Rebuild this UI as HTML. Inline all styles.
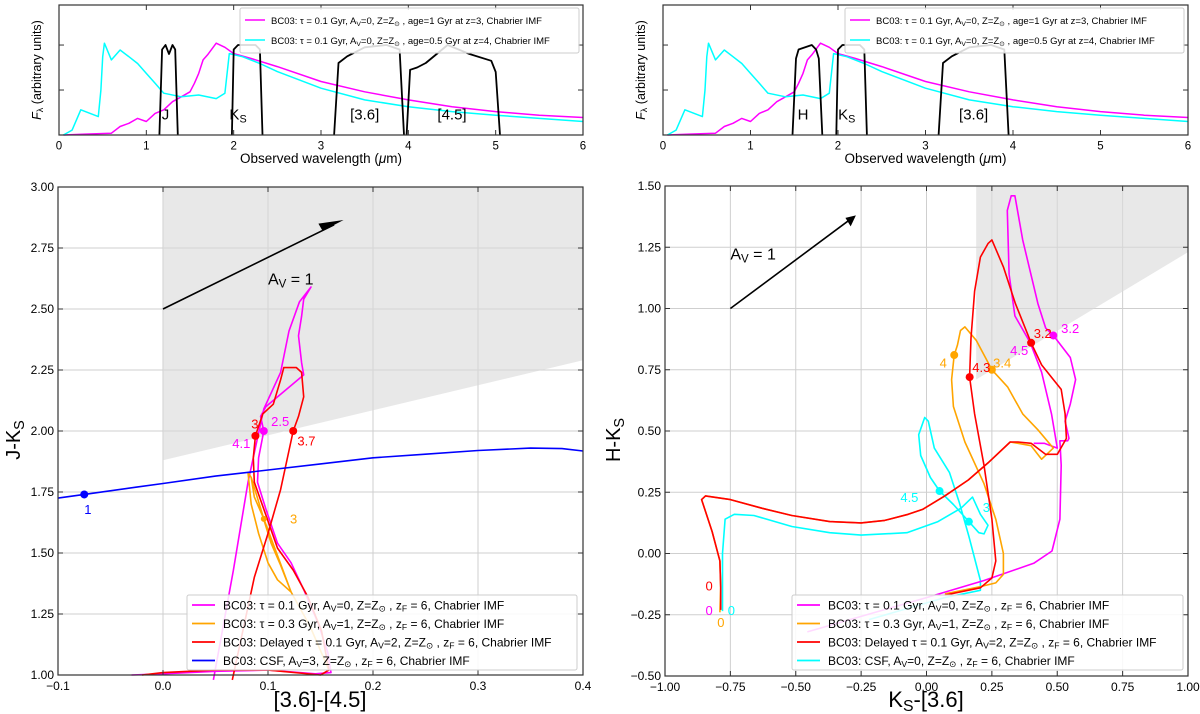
<!DOCTYPE html>
<html><head><meta charset="utf-8"><style>
body{margin:0;background:#fff;}
svg{display:block;font-family:"Liberation Sans","DejaVu Sans",sans-serif;}
</style></head><body>
<svg id="fig" width="1200" height="714" viewBox="0 0 1200 714"></svg>
<script>
// ---------- DATA ----------
// Top panels: spectra (wavelength um, flux arbitrary)
const specMagLam = [0.05,0.3,0.6,0.7,0.8,0.9,1.0,1.1,1.2,1.3,1.4,1.5,1.55,1.6,1.65,1.7,1.8,1.9,2.0,2.2,2.5,3.0,3.5,4.0,4.5,5.0,5.5,6.0];
const specMagFlux = [0,0.02,0.04,0.19,0.26,0.37,0.3,0.48,0.56,0.74,0.85,0.96,1.15,1.37,1.67,1.78,2.04,1.95,1.81,1.7,1.52,1.19,0.96,0.78,0.63,0.52,0.44,0.39];
const specCyaLam = [0.05,0.15,0.25,0.45,0.48,0.5,0.52,0.6,0.7,0.8,0.9,1.0,1.1,1.2,1.4,1.6,1.8,1.9,1.95,2.1,2.3,2.5,3.0,3.5,4.0,4.5,5.0,5.5,6.0];
const specCyaFlux = [0,0.11,0.56,0.41,1.0,1.74,2.04,1.67,1.89,1.74,1.59,1.37,1.15,0.93,0.85,0.89,0.81,0.93,1.81,1.74,1.59,1.41,1.04,0.78,0.63,0.52,0.44,0.37,0.30];
const filtJLam = [1.15,1.18,1.22,1.26,1.3,1.33,1.36];
const filtJT = [0,1.9,2.0,1.8,2.0,1.9,0];
const filtHLam = [1.48,1.52,1.55,1.7,1.75,1.78,1.82];
const filtHT = [0,1.7,1.9,2.0,1.9,1.7,0];
const filtKLam = [1.98,2.0,2.05,2.25,2.3,2.33];
const filtKT = [0,1.9,2.0,2.0,1.9,0];
const filt36Lam = [3.15,3.2,3.3,3.5,3.75,3.9,3.95];
const filt36T = [0,1.6,1.75,1.95,2.0,1.9,0];
const filt45Lam = [3.98,4.02,4.1,4.2,4.45,4.7,4.95,5.0,5.05];
const filt45T = [0,1.45,1.5,1.6,2.0,1.8,1.65,1.4,0];
const topXTicks = [0,1,2,3,4,5,6];

// Bottom-left: J-Ks vs [3.6]-[4.5]
const blXTicks = [-0.1,0.0,0.1,0.2,0.3,0.4];
const blYTicks = [1.00,1.25,1.50,1.75,2.00,2.25,2.50,2.75,3.00];
const blBlueX = [-0.1,-0.075,-0.025,0,0.05,0.1,0.15,0.2,0.25,0.3,0.35,0.38,0.4];
const blBlueY = [1.725,1.74,1.77,1.785,1.815,1.84,1.865,1.89,1.905,1.92,1.93,1.928,1.918];
const blMagX = [0.048,0.067,0.081,0.089,0.096,0.112,0.12,0.13,0.141,0.134,0.132,0.129,0.132,0.134,0.098,0.093,0.096,0.091,0.090,0.098,0.109,0.122,0.134,0.148,0.157,0.16,0.145,0.1,0.05,0.0,-0.03];
const blMagY = [0.98,1.43,1.79,1.95,2.09,2.24,2.41,2.53,2.59,2.54,2.47,2.39,2.28,2.23,2.10,2.06,2.0,1.89,1.79,1.68,1.54,1.46,1.35,1.21,1.09,1.01,1.005,1.02,1.015,1.005,1.0];
const blRedX = [0.066,0.087,0.1,0.112,0.12,0.124,0.129,0.134,0.132,0.127,0.115,0.112,0.105,0.095,0.088,0.086,0.087,0.096,0.109,0.124,0.138,0.151,0.158,0.15,0.1,0.05,0.0,-0.02];
const blRedY = [0.98,1.40,1.58,1.76,1.92,2.0,2.06,2.14,2.24,2.26,2.26,2.21,2.11,2.07,1.98,1.89,1.79,1.68,1.52,1.43,1.32,1.18,1.02,1.0,1.02,1.02,1.01,1.0];
const blOraX = [0.081,0.084,0.087,0.095,0.103,0.112,0.122,0.109,0.1,0.091,0.084,0.081,0.084,0.096,0.122,0.14,0.158];
const blOraY = [1.83,1.81,1.73,1.65,1.54,1.45,1.34,1.39,1.46,1.58,1.70,1.83,1.81,1.64,1.34,1.2,1.02];
const blMarkX = [-0.075,0.096,0.088,0.124,0.096];
const blMarkY = [1.74,2.0,1.98,2.0,1.64];

// Bottom-right: H-Ks vs Ks-[3.6]
const brXTicks = [-1.0,-0.75,-0.5,-0.25,0.0,0.25,0.5,0.75,1.0];
const brYTicks = [-0.5,-0.25,0.0,0.25,0.5,0.75,1.0,1.25,1.5];
const brMagX = [-0.456,0,0.22,0.41,0.48,0.51,0.515,0.51,0.54,0.545,0.53,0.55,0.57,0.55,0.485,0.456,0.426,0.368,0.338,0.324,0.309,0.316,0.338,0.397,0.44,0.478,0.5,0.45,0.41];
const brMagY = [-0.32,-0.18,-0.11,-0.04,0.01,0.14,0.36,0.46,0.46,0.47,0.54,0.61,0.71,0.80,0.89,0.92,1.02,1.28,1.46,1.46,1.40,1.14,0.97,0.86,0.74,0.57,0.43,0.45,0.45];
const brRedX = [-0.787,-0.787,-0.79,-0.82,-0.86,-0.845,-0.75,-0.63,-0.515,-0.37,-0.25,-0.16,-0.07,-0.015,0.07,0.16,0.235,0.32,0.35,0.40,0.455,0.5,0.535,0.53,0.515,0.44,0.40,0.34,0.294,0.25,0.235,0.206,0.184,0.17,0.165,0.184,0.22,0.25,0.265,0.25,0.206,0.07];
const brRedY = [-0.23,-0.14,-0.03,0.09,0.22,0.235,0.22,0.185,0.155,0.13,0.125,0.135,0.16,0.18,0.235,0.30,0.37,0.455,0.455,0.45,0.405,0.405,0.47,0.57,0.67,0.77,0.86,1.02,1.17,1.28,1.265,1.21,1.07,0.88,0.72,0.57,0.36,0.14,-0.03,-0.10,-0.14,-0.17];
const brOraX = [-0.79,-0.787,-0.79,-0.82,-0.86,-0.845,-0.75,-0.63,-0.515,-0.37,-0.25,-0.16,-0.07,-0.015,0.07,0.16,0.235,0.32,0.35,0.40,0.44,0.485,0.426,0.368,0.31,0.25,0.19,0.147,0.13,0.118,0.106,0.096,0.103,0.147,0.22,0.265,0.294,0.294,0.265,0.206,0.07];
const brOraY = [-0.24,-0.14,-0.03,0.09,0.22,0.235,0.22,0.185,0.155,0.13,0.125,0.135,0.16,0.18,0.235,0.30,0.37,0.455,0.45,0.44,0.385,0.43,0.505,0.57,0.68,0.75,0.87,0.925,0.91,0.85,0.81,0.71,0.60,0.455,0.285,0.14,0.0,-0.085,-0.12,-0.135,-0.165];
const brCyaX = [-0.78,-0.78,-0.77,-0.735,-0.66,-0.515,-0.37,-0.25,-0.075,0.044,0.132,0.176,0.206,0.235,0.22,0.2,0.162,0.103,0.05,0.015,-0.022,-0.03,-0.007,0.007,0.03,0.088,0.125,0.162,0.206,0.206,0.07,-0.22];
const brCyaY = [-0.235,0,0.14,0.16,0.155,0.11,0.085,0.075,0.085,0.13,0.185,0.23,0.16,0.115,0.08,0.085,0.13,0.2,0.255,0.31,0.40,0.485,0.555,0.54,0.43,0.33,0.21,0.07,-0.11,-0.15,-0.18,-0.27];
const brMarkX = [0.485,0.40,0.165,0.106,0.25,0.05,0.162];
const brMarkY = [0.89,0.86,0.72,0.81,0.75,0.255,0.13];

// ---------- DRAWING ----------
const NS="http://www.w3.org/2000/svg";
const svg=document.getElementById('fig');
function el(tag,attrs,parent){const e=document.createElementNS(NS,tag);for(const k in attrs)e.setAttribute(k,attrs[k]);(parent||svg).appendChild(e);return e;}
function axis(x0,x1,y0,y1,px0,px1,py0,py1){return {x:v=>px0+(v-x0)/(x1-x0)*(px1-px0),y:v=>py1-(v-y0)/(y1-y0)*(py1-py0),px0,px1,py0,py1};}
function line(ax,xs,ys,color,w,parent,name){
  const d=xs.map((v,i)=>(i?'L':'M')+ax.x(v).toFixed(1)+','+ax.y(ys[i]).toFixed(1)).join(' ');
  const p=el('path',{d:d,fill:'none',stroke:color,'stroke-width':w,'stroke-linejoin':'round'},parent);
  
  
  return p;
}
function txt(x,y,s,size,color,anchor,parent,name,extra){
  const t=el('text',Object.assign({x:x,y:y,'font-size':size,fill:color||'#000','text-anchor':anchor||'start'},extra||{}),parent);
  t.innerHTML=s;
  
  
  return t;
}
function frame(ax,xt,yt,name){
  const g=el('g',{});
  
  
  xt.forEach(v=>el('line',{x1:ax.x(v),x2:ax.x(v),y1:ax.py0,y2:ax.py1,stroke:'#cfcfcf','stroke-width':1},g));
  yt.forEach(v=>el('line',{x1:ax.px0,x2:ax.px1,y1:ax.y(v),y2:ax.y(v),stroke:'#cfcfcf','stroke-width':1},g));
  return g;
}
function ticks(ax,xt,yt,fmtx,fmty,fs,name){
  const g=el('g',{});
  
  
  el('rect',{x:ax.px0,y:ax.py0,width:ax.px1-ax.px0,height:ax.py1-ax.py0,fill:'none',stroke:'#333','stroke-width':1.2},g);
  xt.forEach(v=>{const X=ax.x(v);
    el('line',{x1:X,x2:X,y1:ax.py1,y2:ax.py1-5,stroke:'#333'},g);
    el('line',{x1:X,x2:X,y1:ax.py0,y2:ax.py0+5,stroke:'#333'},g);
    txt(X,ax.py1+fs+3,fmtx(v),fs,'#000','middle',g,'x-tick-label');});
  yt.forEach(v=>{const Y=ax.y(v);
    el('line',{x1:ax.px0,x2:ax.px0+5,y1:Y,y2:Y,stroke:'#333'},g);
    el('line',{x1:ax.px1,x2:ax.px1-5,y1:Y,y2:Y,stroke:'#333'},g);
    if(fmty)txt(ax.px0-4,Y+fs*0.35,fmty(v),fs,'#000','end',g,'y-tick-label');});
}
const sub=s=>'<tspan baseline-shift="-0.25em" font-size="72%">'+s+'</tspan>';
const f2=v=>(v<0?'\u2212':'')+Math.abs(v).toFixed(2);
const f1=v=>(v<0?'\u2212':'')+Math.abs(v).toFixed(1);

// ---- Top panels ----
function topPanel(px0,px1,filters,labels,name){
  const ax=axis(0,6,0,2.89,px0,px1,5,135);
  const g=el('g',{});
  
  
  line(ax,specMagLam,specMagFlux,'#ff00ff',1.5,g,'spectrum-z3-magenta');
  line(ax,specCyaLam,specCyaFlux,'#00ffff',1.5,g,'spectrum-z4-cyan');
  filters.forEach(f=>line(ax,f[0],f[1],'#000',1.8,g,'filter-curve-'+f[2]));
  labels.forEach(l=>txt(ax.x(l[0]),ax.y(0.35),l[1],15,'#000','middle',g,'filter-label'));
  ticks(ax,topXTicks,[1,2],v=>String(v),null,11.5,'top-axes');
  txt((px0+px1)/2,163,'Observed wavelength (<tspan font-style="italic">μ</tspan>m)',13.5,'#000','middle',svg,'top-x-axis-title');
  txt(0,0,'<tspan font-style="italic">F</tspan>'+sub('λ')+' (arbitrary units)',12.5,'#000','middle',svg,'top-y-axis-title',{transform:'translate('+(px0-18)+',70) rotate(-90)'});
  const lg=el('g',{});
  
  
  const lx=px1-343;
  el('rect',{x:lx,y:8,width:339,height:45,fill:'#fff','fill-opacity':0.85,stroke:'#ccc',rx:2},lg);
  el('line',{x1:lx+5,x2:lx+25,y1:20,y2:20,stroke:'#ff00ff','stroke-width':1.5},lg);
  el('line',{x1:lx+5,x2:lx+25,y1:40,y2:40,stroke:'#00ffff','stroke-width':1.5},lg);
  txt(lx+31,24,'BC03: τ = 0.1 Gyr, A'+sub('V')+'=0, Z=Z'+sub('⊙')+' , age=1 Gyr at z=3, Chabrier IMF',9.5,'#000','start',lg,'legend-entry-magenta');
  txt(lx+31,44,'BC03: τ = 0.1 Gyr, A'+sub('V')+'=0, Z=Z'+sub('⊙')+' , age=0.5 Gyr at z=4, Chabrier IMF',9.5,'#000','start',lg,'legend-entry-cyan');
}
topPanel(59,583,[[filtJLam,filtJT,'J'],[filtKLam,filtKT,'Ks'],[filt36Lam,filt36T,'36'],[filt45Lam,filt45T,'45']],[[1.22,'J'],[2.05,'K'+sub('S')],[3.5,'[3.6]'],[4.5,'[4.5]']],'top-left-panel');
topPanel(663,1188,[[filtHLam,filtHT,'H'],[filtKLam,filtKT,'Ks'],[filt36Lam,filt36T,'36']],[[1.6,'H'],[2.1,'K'+sub('S')],[3.55,'[3.6]']],'top-right-panel');

// ---- Bottom-left ----
const bl=axis(-0.1,0.4,1.0,3.0,58,583,187,675);
frame(bl,blXTicks,blYTicks,'bl-grid');
const shL=el('polygon',{points:[[0,3],[0.4,3],[0.4,2.29],[0,1.88]].map(p=>bl.x(p[0])+','+bl.y(p[1])).join(' '),fill:'#d9d9d9','fill-opacity':0.6});


line(bl,blMagX,blMagY,'#ff00ff',1.6,null,'track-tau01-magenta');
line(bl,blOraX,blOraY,'#ffa500',1.6,null,'track-tau03-orange');
line(bl,blRedX,blRedY,'#ff0000',1.6,null,'track-delayed-red');
line(bl,blBlueX,blBlueY,'#0000ff',1.6,null,'track-csf-blue');
const blMc=['#0000ff','#ff00ff','#ff0000','#ff0000','#ffa500'];
blMarkX.forEach((v,i)=>{const c=el('circle',{cx:bl.x(v),cy:bl.y(blMarkY[i]),r:i==4?3:4,fill:blMc[i]});
  
  });
txt(bl.x(-0.075),bl.y(1.66),'1',13,'#0000ff','start',null,'label-z1');
txt(bl.x(0.084),bl.y(2.01),'3',13,'#ff0000','start',null,'label-z3-red');
txt(bl.x(0.103),bl.y(2.02),'2.5',13,'#ff00ff','start',null,'label-z25');
txt(bl.x(0.066),bl.y(1.93),'4.1',13,'#ff00ff','start',null,'label-z41');
txt(bl.x(0.128),bl.y(1.94),'3.7',13,'#ff0000','start',null,'label-z37');
txt(bl.x(0.121),bl.y(1.62),'3',13,'#ffa500','start',null,'label-z3-orange');
const arL=el('g',{});
el('line',{x1:bl.x(0),y1:bl.y(2.5),x2:bl.x(0.163),y2:bl.y(2.845),stroke:'#000','stroke-width':1.6},arL);
el('polygon',{points:[[bl.x(0.172),bl.y(2.865)],[bl.x(0.148),bl.y(2.85)],[bl.x(0.152),bl.y(2.82)]].map(p=>p.join(',')).join(' '),fill:'#000'},arL);
txt(bl.x(0.1),bl.y(2.6),'A'+sub('V')+' = 1',16,'#000','start',null,'extinction-label');
ticks(bl,blXTicks,blYTicks,f1,f2,12,'bl-axes');
txt(320,707,'[3.6]-[4.5]',22,'#000','middle',null,'bl-x-axis-title');
txt(0,0,'J-K'+sub('S'),20,'#000','middle',null,'bl-y-axis-title',{transform:'translate(20,440) rotate(-90)'});
function legend(x,y,w,entries,name){
  const g=el('g',{});
  
  
  el('rect',{x:x,y:y,width:w,height:75,fill:'#fff','fill-opacity':0.85,stroke:'#ccc',rx:2},g);
  entries.forEach((e,i)=>{const yy=y+10+i*18.5;
    el('line',{x1:x+5,x2:x+28,y1:yy,y2:yy,stroke:e[0],'stroke-width':1.8},g);
    txt(x+36,yy+4.5,e[1],12,'#000','start',g,'legend-entry');});
}
const Zs='Z=Z'+sub('⊙')+' , z'+sub('F')+' = 6, Chabrier IMF';
legend(187,595,390,[['#ff00ff','BC03: τ = 0.1 Gyr, A'+sub('V')+'=0, '+Zs],['#ffa500','BC03: τ = 0.3 Gyr, A'+sub('V')+'=1, '+Zs],['#ff0000','BC03: Delayed τ = 0.1 Gyr, A'+sub('V')+'=2, '+Zs],['#0000ff','BC03: CSF, A'+sub('V')+'=3, '+Zs]],'bl-legend');

// ---- Bottom-right ----
const br=axis(-1,1,-0.5,1.5,665,1188,186,676);
frame(br,brXTicks,brYTicks,'br-grid');
const shR=el('polygon',{points:[[0.19,1.5],[1,1.5],[1,1.23],[0.19,0.71]].map(p=>br.x(p[0])+','+br.y(p[1])).join(' '),fill:'#d9d9d9','fill-opacity':0.6});


line(br,brCyaX,brCyaY,'#00ffff',1.6,null,'track-csf-cyan');
line(br,brMagX,brMagY,'#ff00ff',1.6,null,'track-tau01-magenta');
line(br,brOraX,brOraY,'#ffa500',1.6,null,'track-tau03-orange');
line(br,brRedX,brRedY,'#ff0000',1.6,null,'track-delayed-red');
const brMc=['#ff00ff','#ff0000','#ff0000','#ffa500','#ffa500','#00ffff','#00ffff'];
brMarkX.forEach((v,i)=>{const c=el('circle',{cx:br.x(v),cy:br.y(brMarkY[i]),r:4,fill:brMc[i]});
  
  });
[[0.515,0.9,'3.2','#ff00ff'],[0.41,0.88,'3.2','#ff0000'],[0.32,0.81,'4.5','#ff00ff'],[0.175,0.74,'4.3','#ff0000'],[0.255,0.76,'3.4','#ffa500'],[0.05,0.76,'4','#ffa500'],[-0.1,0.21,'4.5','#00ffff'],[0.215,0.17,'3','#00ffff'],[-0.845,-0.15,'0','#ff0000'],[-0.845,-0.25,'0','#ff00ff'],[-0.8,-0.3,'0','#ffa500'],[-0.76,-0.25,'0','#00ffff']].forEach(l=>txt(br.x(l[0]),br.y(l[1]),l[2],13,l[3],'start',null,'redshift-label'));
const arR=el('g',{});
el('line',{x1:br.x(-0.75),y1:br.y(1.0),x2:br.x(-0.29),y2:br.y(1.365),stroke:'#000','stroke-width':1.6},arR);
el('polygon',{points:[[br.x(-0.27),br.y(1.38)],[br.x(-0.31),br.y(1.37)],[br.x(-0.29),br.y(1.335)]].map(p=>p.join(',')).join(' '),fill:'#000'},arR);
txt(br.x(-0.75),br.y(1.2),'A'+sub('V')+' = 1',16,'#000','start',null,'extinction-label');
ticks(br,brXTicks,brYTicks,f2,f2,12,'br-axes');
txt(926,707,'K'+sub('S')+'-[3.6]',22,'#000','middle',null,'br-x-axis-title');
txt(0,0,'H-K'+sub('S'),20,'#000','middle',null,'br-y-axis-title',{transform:'translate(620,440) rotate(-90)'});
legend(792,595,391,[['#ff00ff','BC03: τ = 0.1 Gyr, A'+sub('V')+'=0, '+Zs],['#ffa500','BC03: τ = 0.3 Gyr, A'+sub('V')+'=1, '+Zs],['#ff0000','BC03: Delayed τ = 0.1 Gyr, A'+sub('V')+'=2, '+Zs],['#00ffff','BC03: CSF, A'+sub('V')+'=0, Z=Z'+sub('⊙')+' , z'+sub('F')+' = 6, Chabrier IMF']],'br-legend');
</script>
</body></html>
